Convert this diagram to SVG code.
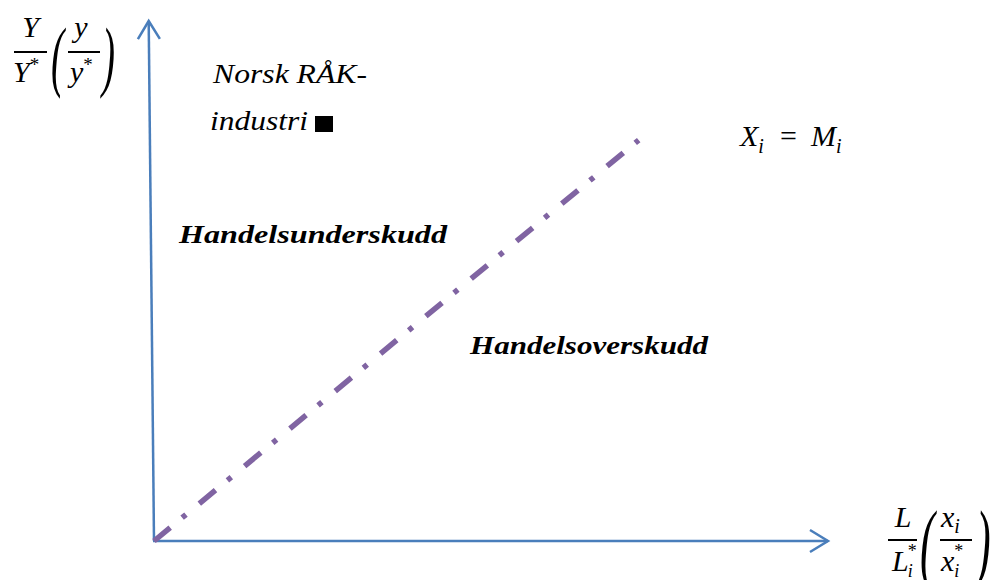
<svg xmlns="http://www.w3.org/2000/svg" width="991" height="580" viewBox="0 0 991 580">
<defs>
<style>
.axis{stroke:#4A7EBB;stroke-width:2.5;fill:none}
.m{font-family:"Liberation Serif",serif;font-style:italic;fill:#000}
.lab{font-family:"Liberation Serif",serif;font-style:italic;font-weight:bold;fill:#000}
.it{font-family:"Liberation Serif",serif;font-style:italic;fill:#000}
.bar{stroke:#000;stroke-width:2}
</style>
<marker id="arr" markerUnits="userSpaceOnUse" markerWidth="30" markerHeight="30" refX="0" refY="0" viewBox="-22 -15 30 30" orient="auto" overflow="visible">
<path d="M-18,-11 L0,0 L-18,11" fill="none" stroke="#4A7EBB" stroke-width="2.5"/>
</marker>
</defs>
<rect width="991" height="580" fill="#fff"/>
<g id="connectors">
<line id="y-axis" class="axis" x1="154" y1="541" x2="148.7" y2="21" marker-end="url(#arr)"/>
<line id="x-axis" class="axis" x1="153" y1="541" x2="828" y2="541" marker-end="url(#arr)"/>
<line id="balance-line" x1="154" y1="541" x2="638.7" y2="140.1" stroke="#8064A2" stroke-width="5.5" stroke-dasharray="21 15.5 5 17.3" fill="none"/>
</g>
<g id="y-label">
<text class="m" x="30.5" y="37" font-size="30" text-anchor="middle">Y</text>
<line class="bar" x1="14" y1="52" x2="47" y2="52"/>
<text class="m" x="13" y="82" font-size="30">Y<tspan font-size="19" font-style="normal" dy="-11">*</tspan></text>
<text class="m" x="0" y="0" font-size="78" font-style="normal" transform="translate(51,82) scale(0.5,1)">(</text>
<text class="m" x="81" y="37" font-size="30" text-anchor="middle">y</text>
<line class="bar" x1="68" y1="52" x2="100" y2="52"/>
<text class="m" x="70" y="82" font-size="30">y<tspan font-size="19" font-style="normal" dy="-11">*</tspan></text>
<text class="m" x="0" y="0" font-size="78" font-style="normal" transform="translate(102,82) scale(0.5,1)">)</text>
</g>
<g id="x-label">
<text class="m" x="903" y="527" font-size="30" text-anchor="middle">L</text>
<line class="bar" x1="888" y1="540" x2="917" y2="540"/>
<text class="m" x="892" y="571" font-size="30">L<tspan font-size="18" font-style="normal" dx="-1" dy="-14">*</tspan><tspan font-size="18" dx="-9" dy="20">i</tspan></text>
<text class="m" x="0" y="0" font-size="88" font-style="normal" transform="translate(920,572) scale(0.5,1)">(</text>
<text class="m" x="941" y="527" font-size="30">x<tspan font-size="20" dy="6">i</tspan></text>
<line class="bar" x1="940" y1="540" x2="972" y2="540"/>
<text class="m" x="941" y="571" font-size="30">x<tspan font-size="18" font-style="normal" dy="-14">*</tspan><tspan font-size="18" dx="-9" dy="20">i</tspan></text>
<text class="m" x="0" y="0" font-size="88" font-style="normal" transform="translate(976,572) scale(0.5,1)">)</text>
</g>
<g id="line-label">
<text class="m" x="740" y="146" font-size="30">X<tspan font-size="20" dy="7">i</tspan><tspan font-size="30" font-style="normal" x="780" dy="-7">=</tspan><tspan font-size="30" x="811">M</tspan><tspan font-size="20" dy="7">i</tspan></text>
</g>
<g id="norsk">
<text class="it" x="213" y="83" font-size="27" textLength="154" lengthAdjust="spacingAndGlyphs">Norsk RÅK-</text>
<text class="it" x="210" y="130" font-size="27" textLength="98" lengthAdjust="spacingAndGlyphs">industri</text>
<rect x="315" y="116" width="18" height="16" fill="#000"/>
</g>
<g id="underskudd">
<text class="lab" x="179" y="243" font-size="26" textLength="268" lengthAdjust="spacingAndGlyphs">Handelsunderskudd</text>
</g>
<g id="overskudd">
<text class="lab" x="470" y="354" font-size="26" textLength="238" lengthAdjust="spacingAndGlyphs">Handelsoverskudd</text>
</g>
</svg>
